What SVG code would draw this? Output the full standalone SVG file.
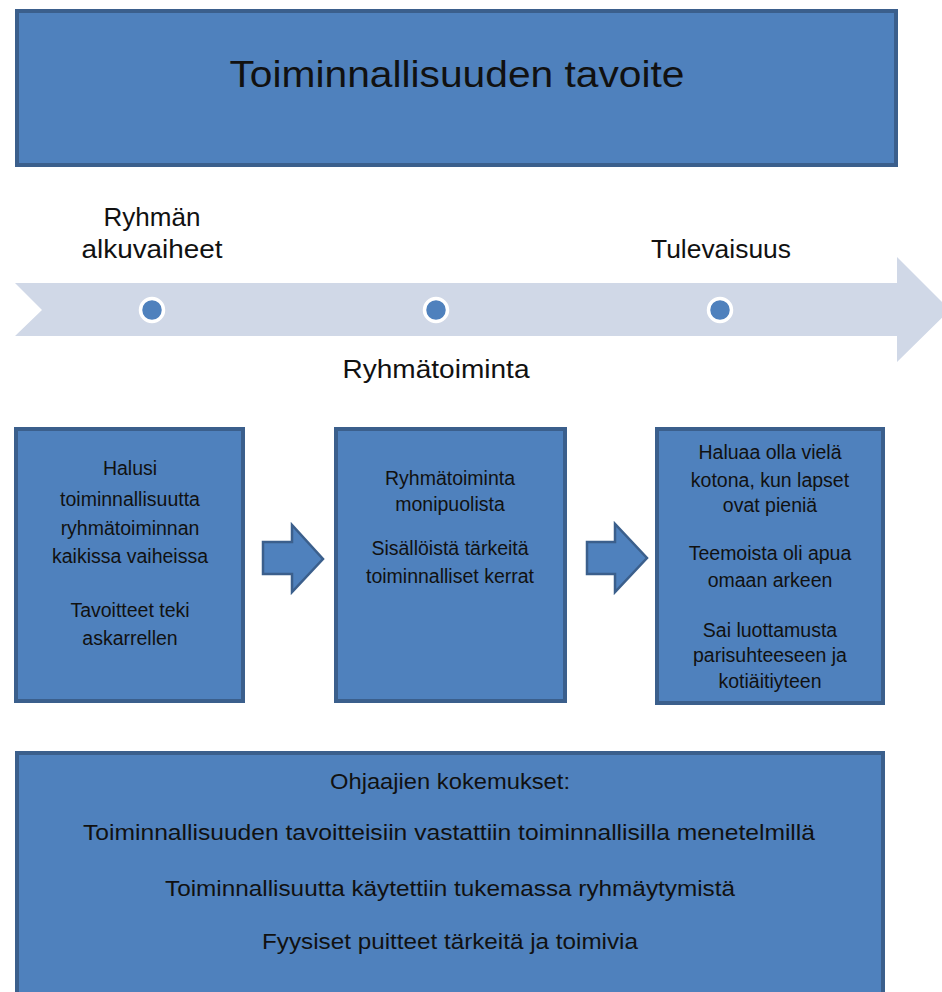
<svg xmlns="http://www.w3.org/2000/svg" width="942" height="992" viewBox="0 0 942 992">
<style>
.box{fill:#4f81bd;stroke:#3b5f8c;stroke-width:4}
.arr{fill:#4f81bd;stroke:#3b5f8c;stroke-width:2.5;stroke-linejoin:miter}
.t{font-family:"Liberation Sans",Arial,sans-serif;fill:#111;text-anchor:middle}
.b{font-size:19.5px}
.tl{font-size:25px}
.bt{font-size:22px}
.dot{fill:#4f81bd;stroke:#fff;stroke-width:3.5}
</style>
<rect x="0" y="0" width="942" height="992" fill="#fff"/>
<g id="title">
<rect class="box" x="17" y="11" width="879" height="154"/>
<text class="t" x="457" y="87" font-size="37" textLength="455" lengthAdjust="spacingAndGlyphs">Toiminnallisuuden tavoite</text>
</g>
<g id="timeline">
<path d="M15,283 H897 V257 L950,310 L897,362 V336 H15 L42,310 Z" fill="#d0d8e7"/>
<circle class="dot" cx="152" cy="310" r="11.5"/>
<circle class="dot" cx="436" cy="310" r="11.5"/>
<circle class="dot" cx="720" cy="310" r="11.5"/>
<text class="t tl" x="152" y="226" textLength="97" lengthAdjust="spacingAndGlyphs">Ryhmän</text>
<text class="t tl" x="152" y="258" textLength="141" lengthAdjust="spacingAndGlyphs">alkuvaiheet</text>
<text class="t tl" x="721" y="258" textLength="140" lengthAdjust="spacingAndGlyphs">Tulevaisuus</text>
<text class="t tl" x="436" y="378" textLength="187" lengthAdjust="spacingAndGlyphs">Ryhmätoiminta</text>
</g>
<g id="box1">
<rect class="box" x="16" y="429" width="227" height="272"/>
<text class="t b" x="130" y="475">Halusi</text>
<text class="t b" x="130" y="506">toiminnallisuutta</text>
<text class="t b" x="130" y="535">ryhmätoiminnan</text>
<text class="t b" x="130" y="563">kaikissa vaiheissa</text>
<text class="t b" x="130" y="617">Tavoitteet teki</text>
<text class="t b" x="130" y="645">askarrellen</text>
</g>
<g id="box2">
<rect class="box" x="336" y="429" width="229" height="272"/>
<text class="t b" x="450" y="485">Ryhmätoiminta</text>
<text class="t b" x="450" y="511">monipuolista</text>
<text class="t b" x="450" y="555">Sisällöistä tärkeitä</text>
<text class="t b" x="450" y="583">toiminnalliset kerrat</text>
</g>
<g id="box3">
<rect class="box" x="657" y="429" width="226" height="274"/>
<text class="t b" x="770" y="459">Haluaa olla vielä</text>
<text class="t b" x="770" y="487">kotona, kun lapset</text>
<text class="t b" x="770" y="512">ovat pieniä</text>
<text class="t b" x="770" y="560">Teemoista oli apua</text>
<text class="t b" x="770" y="587">omaan arkeen</text>
<text class="t b" x="770" y="637">Sai luottamusta</text>
<text class="t b" x="770" y="662">parisuhteeseen ja</text>
<text class="t b" x="770" y="688">kotiäitiyteen</text>
</g>
<g id="connectors">
<path class="arr" d="M263,542 H292 V525 L323,559 L292,592 V574 H263 Z"/>
<path class="arr" d="M587,542 H615 V524 L647,558 L615,592 V574 H587 Z"/>
</g>
<g id="bottom">
<rect class="box" x="17" y="753" width="866" height="260"/>
<text class="t bt" x="450" y="789" textLength="240" lengthAdjust="spacingAndGlyphs">Ohjaajien kokemukset:</text>
<text class="t bt" x="449" y="840" textLength="732" lengthAdjust="spacingAndGlyphs">Toiminnallisuuden tavoitteisiin vastattiin toiminnallisilla menetelmillä</text>
<text class="t bt" x="450" y="896" textLength="570" lengthAdjust="spacingAndGlyphs">Toiminnallisuutta käytettiin tukemassa ryhmäytymistä</text>
<text class="t bt" x="450" y="949" textLength="376" lengthAdjust="spacingAndGlyphs">Fyysiset puitteet tärkeitä ja toimivia</text>
</g>
</svg>
